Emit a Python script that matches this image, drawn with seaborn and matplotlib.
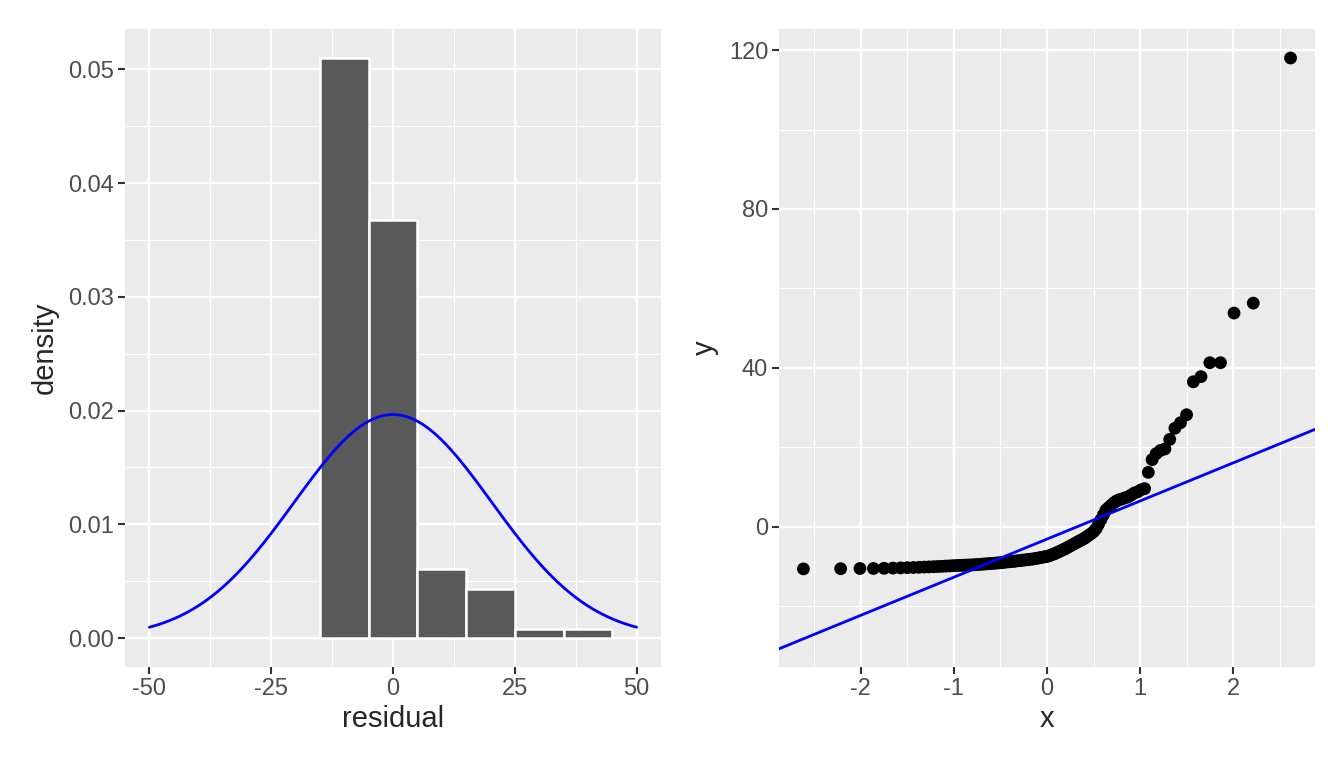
import numpy as np
import seaborn as sns
import matplotlib.pyplot as plt
from statistics import NormalDist

# Left panel: histogram of residuals (density per bin) with a normal curve
bin_edges = [-15, -5, 5, 15, 25, 35, 45]
bin_density = [0.0510, 0.0368, 0.0061, 0.0043, 0.0008, 0.0008]
curve_mean = 0.0
curve_sd = 20.3

# Right panel: sorted sample for the normal QQ plot
qq_sample = [
    -10.6, -10.55, -10.5, -10.5, -10.45, -10.4, -10.35, -10.3, -10.25, -10.2,
    -10.15, -10.1, -10.05, -10.0, -9.95, -9.9, -9.85, -9.8, -9.75, -9.72,
    -9.7, -9.65, -9.62, -9.6, -9.55, -9.5, -9.45, -9.4, -9.35, -9.3,
    -9.25, -9.2, -9.15, -9.1, -9.05, -9.0, -8.9, -8.85, -8.8, -8.75,
    -8.7, -8.6, -8.55, -8.5, -8.4, -8.35, -8.3, -8.2, -8.15, -8.1,
    -8.0, -7.9, -7.8, -7.7, -7.6, -7.5, -7.4, -7.2, -7.0, -6.8,
    -6.6, -6.3, -6.1, -5.8, -5.6, -5.3, -5.0, -4.7, -4.4, -4.1,
    -3.8, -3.5, -3.2, -2.9, -2.5, -2.1, -1.7, -1.2, -0.5, 0.6,
    1.8, 3.0, 4.2, 4.8, 5.4, 6.0, 6.5, 6.8, 7.0, 7.3,
    7.5, 8.0, 8.5, 8.8, 9.3, 9.6,
    13.7, 16.9, 18.4, 19.2, 19.6, 22.0, 24.8, 26.2, 28.2, 36.5,
    37.8, 41.3, 41.3, 53.8, 56.3, 118.0,
]
qq_intercept = -3.1
qq_slope = 9.6

sns.set_theme(style="darkgrid", rc={
    "axes.facecolor": "#EBEBEB",
    "grid.color": "white",
    "xtick.color": "#333333",
    "ytick.color": "#333333",
    "xtick.labelcolor": "#4D4D4D",
    "ytick.labelcolor": "#4D4D4D",
    "axes.unicode_minus": False,
})
plt.rcParams["font.family"] = ["Liberation Sans", "DejaVu Sans"]

fig = plt.figure(figsize=(13.44, 7.68), dpi=100)
ax1 = fig.add_axes([0.0930, 0.1315, 0.3988, 0.8307])
ax2 = fig.add_axes([0.5796, 0.1315, 0.3988, 0.8307])


def ggplot_look(ax, minor_x, minor_y):
    for s in ax.spines.values():
        s.set_visible(False)
    ax.set_xticks(minor_x, minor=True)
    ax.set_yticks(minor_y, minor=True)
    ax.grid(which="major", color="white", linewidth=1.7)
    ax.grid(which="minor", color="white", linewidth=0.85)
    ax.set_axisbelow(True)
    ax.tick_params(which="major", length=4.8, width=1.5, pad=3, labelsize=17,
                   bottom=True, left=True)
    ax.tick_params(which="minor", length=0)


# histogram + normal curve
mids = [(a + b) / 2 for a, b in zip(bin_edges[:-1], bin_edges[1:])]
sns.histplot(x=mids, weights=bin_density, bins=bin_edges, ax=ax1,
             color="#595959", edgecolor="white", linewidth=1.8, alpha=1)
xs = np.linspace(-50, 50, 101)
ys = np.exp(-0.5 * ((xs - curve_mean) / curve_sd) ** 2) / (curve_sd * np.sqrt(2 * np.pi))
sns.lineplot(x=xs, y=ys, ax=ax1, color="blue", linewidth=2)
ax1.set_xlim(-55, 55)
ax1.set_ylim(-0.00255, 0.05355)
ax1.set_xticks([-50, -25, 0, 25, 50])
ax1.set_xticklabels(["-50", "-25", "0", "25", "50"])
ax1.set_yticks([0, 0.01, 0.02, 0.03, 0.04, 0.05])
ax1.set_yticklabels(["0.00", "0.01", "0.02", "0.03", "0.04", "0.05"])
ggplot_look(ax1, [-37.5, -12.5, 12.5, 37.5],
            [0.005, 0.015, 0.025, 0.035, 0.045])
ax1.set_xlabel("residual", fontsize=21, labelpad=4)
ax1.set_ylabel("density", fontsize=21, labelpad=7)

# QQ plot
n = len(qq_sample)
theo = [NormalDist().inv_cdf((i + 0.5) / n) for i in range(n)]
sns.scatterplot(x=theo, y=qq_sample, ax=ax2, color="black", s=85,
                edgecolor="none", linewidth=0)
ax2.axline((0, qq_intercept), slope=qq_slope, color="blue", linewidth=2)
ax2.set_xlim(-2.877, 2.877)
ax2.set_ylim(-35.3, 125.3)
ax2.set_xticks([-2, -1, 0, 1, 2])
ax2.set_xticklabels(["-2", "-1", "0", "1", "2"])
ax2.set_yticks([0, 40, 80, 120])
ggplot_look(ax2, [-2.5, -1.5, -0.5, 0.5, 1.5, 2.5], [-20, 20, 60, 100])
ax2.set_xlabel("x", fontsize=21, labelpad=4)
ax2.set_ylabel("y", fontsize=21, labelpad=7)

fig.savefig("out.png", dpi=100)
